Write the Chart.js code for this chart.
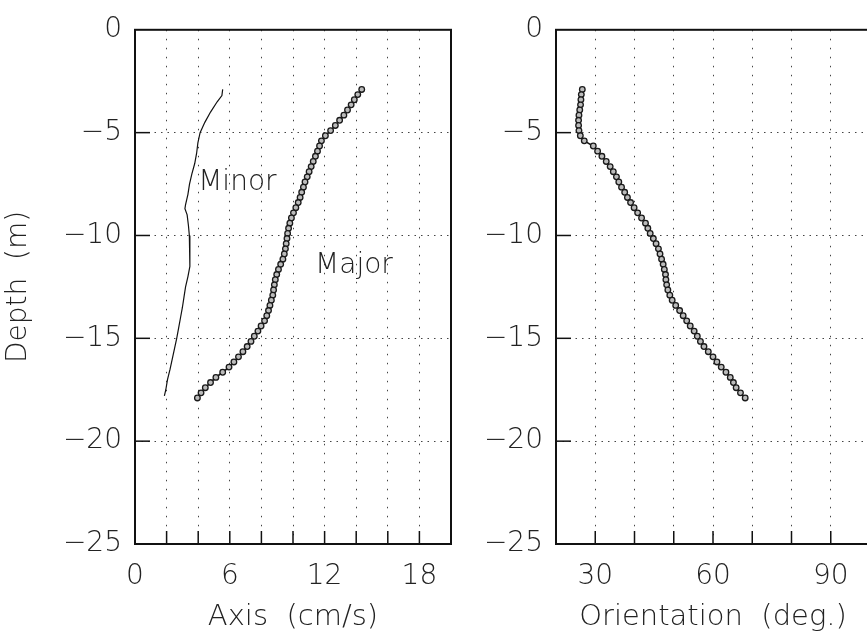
<!DOCTYPE html>
<html>
<head>
<meta charset="utf-8">
<script src="https://cdn.jsdelivr.net/npm/chart.js@4.4.1/dist/chart.umd.min.js"></script>
<style>
  html, body { margin: 0; padding: 0; width: 867px; height: 640px; overflow: hidden; background: #fff; }
  #left { position: absolute; left: 0; top: 0; }
  #right { position: absolute; left: 470px; top: 0; }
</style>
</head>
<body>
<canvas id="left" width="470" height="640"></canvas>
<canvas id="right" width="420" height="640"></canvas>
<script>
// depth (m) of the profile bins, shared by major axis and orientation
const depthBins = [-2.9, -3.15, -3.4, -3.65, -3.9, -4.15, -4.4, -4.65, -4.9, -5.15, -5.4, -5.65,
  -5.9, -6.15, -6.4, -6.65, -6.9, -7.15, -7.4, -7.65, -7.9, -8.15, -8.4, -8.65, -8.9, -9.15,
  -9.4, -9.65, -9.9, -10.15, -10.4, -10.65, -10.9, -11.15, -11.4, -11.65, -11.9, -12.15, -12.4,
  -12.65, -12.9, -13.15, -13.4, -13.65, -13.9, -14.15, -14.4, -14.65, -14.9, -15.15, -15.4,
  -15.65, -15.9, -16.15, -16.4, -16.65, -16.9, -17.15, -17.4, -17.65, -17.9];

const majorAxis = [14.35, 14.1, 13.88, 13.68, 13.45, 13.22, 12.95, 12.68, 12.38, 12.05, 11.8, 11.68,
  11.55, 11.42, 11.28, 11.15, 11.02, 10.9, 10.76, 10.66, 10.55, 10.45, 10.33, 10.18, 10.03, 9.9,
  9.8, 9.72, 9.66, 9.62, 9.57, 9.52, 9.45, 9.36, 9.22, 9.08, 8.97, 8.88, 8.82, 8.77, 8.72, 8.63,
  8.54, 8.45, 8.34, 8.2, 7.98, 7.78, 7.55, 7.34, 7.1, 6.83, 6.55, 6.26, 5.95, 5.55, 5.12, 4.78,
  4.45, 4.18, 3.95];

const orientation = [26.7, 26.45, 26.35, 26.25, 26.05, 25.85, 25.75, 25.75, 25.85, 26.2, 27.2, 29.5,
  30.6, 31.7, 32.8, 33.8, 34.6, 35.4, 36.0, 36.7, 37.5, 38.2, 39.0, 39.9, 40.8, 41.8, 42.8, 43.4,
  44.0, 44.8, 45.5, 46.1, 46.5, 46.9, 47.3, 47.6, 47.9, 48.0, 48.2, 48.5, 49.0, 49.6, 50.5, 51.5,
  52.4, 53.3, 54.2, 55.2, 56.0, 56.8, 57.7, 58.8, 60.0, 61.0, 62.1, 63.3, 64.4, 65.2, 65.9, 67.0,
  68.2];

const minorDepth = [-2.9, -3.2, -3.5, -4, -4.5, -5, -5.5, -6, -6.5, -7, -7.5, -8, -8.5, -8.7, -9,
  -9.5, -10, -10.5, -11, -11.5, -12, -12.5, -13, -13.5, -14, -14.5, -15, -15.5, -16, -16.5, -17,
  -17.5, -17.8];
const minorAxis = [5.55, 5.5, 5.2, 4.78, 4.42, 4.12, 3.98, 3.9, 3.78, 3.6, 3.45, 3.35, 3.2, 3.16, 3.3,
  3.38, 3.44, 3.47, 3.48, 3.47, 3.35, 3.2, 3.1, 3.0, 2.88, 2.76, 2.64, 2.5, 2.36, 2.22, 2.06,
  1.95, 1.86];

const depthTickLabels = [0, -5, -10, -15, -20, -25];
const axisTickLabels = [0, 6, 12, 18];
const orientTickLabels = [30, 60, 90];

// curve labels, placed in data units of the left panel
const curveLabels = [
  { text: "Minor", x: 4.0, y: -7.8 },
  { text: "Major", x: 11.4, y: -11.8 },
];

const FAMILY = "'DejaVu Sans', sans-serif";
const INK = "#222";

const toPts = (xs, ys) => xs.map((v, i) => ({ x: v, y: ys[i] }));
const minusLabel = (v) => (v < 0 ? "\u2212" + Math.abs(v) : String(v));

// box round the plot and short inward ticks
const framePlugin = {
  id: "frame",
  afterDraw(chart) {
    const { ctx, chartArea: a, scales } = chart;
    ctx.save();
    ctx.strokeStyle = "#111";
    ctx.lineWidth = 1.5;
    scales.x.ticks.forEach((t) => {
      const px = scales.x.getPixelForValue(t.value);
      if (px <= a.left + 2 || px >= a.right - 2) return;
      ctx.beginPath();
      ctx.moveTo(px, a.bottom);
      ctx.lineTo(px, a.bottom - 13);
      ctx.stroke();
    });
    scales.y.ticks.forEach((t) => {
      const py = scales.y.getPixelForValue(t.value);
      if (py <= a.top + 2 || py >= a.bottom - 2) return;
      ctx.beginPath();
      ctx.moveTo(a.left, py);
      ctx.lineTo(a.left + 15, py);
      ctx.stroke();
    });
    ctx.lineWidth = 2;
    ctx.strokeRect(a.left, a.top, a.right - a.left, a.bottom - a.top);
    ctx.restore();
  },
};

function textPlugin(items) {
  return {
    id: "curveText",
    afterDatasetsDraw(chart) {
      const { ctx, scales } = chart;
      ctx.save();
      ctx.font = "200 28px " + FAMILY;
      ctx.fillStyle = INK;
      ctx.textAlign = "left";
      ctx.textBaseline = "alphabetic";
      items.forEach((it) => {
        ctx.fillText(it.text, scales.x.getPixelForValue(it.x), scales.y.getPixelForValue(it.y));
      });
      ctx.restore();
    },
  };
}

function depthScale(yWidth) {
  return {
    type: "linear",
    min: -25,
    max: 0,
    afterFit: (s) => { s.width = yWidth; },
    border: { display: false, dash: [1.5, 5] },
    grid: { color: "#444", lineWidth: 1, drawTicks: false },
    ticks: {
      stepSize: 5,
      padding: 13,
      color: INK,
      font: { family: FAMILY, size: 28, weight: "200" },
      callback: (v) => (depthTickLabels.includes(v) ? minusLabel(v) : ""),
    },
    title: yWidth > 100
      ? { display: true, text: "Depth  (m)", color: INK, padding: { top: 2 },
          font: { family: FAMILY, size: 28, weight: "200" } }
      : { display: false },
  };
}

function xScale(min, max, step, labels, title) {
  return {
    type: "linear",
    min: min,
    max: max,
    afterFit: (s) => { s.height = 96; },
    border: { display: false, dash: [1.5, 7.5] },
    grid: { color: "#444", lineWidth: 1, drawTicks: false },
    ticks: {
      stepSize: step,
      autoSkip: false,
      maxRotation: 0,
      padding: 16,
      color: INK,
      font: { family: FAMILY, size: 28, weight: "200" },
      callback: (v) => (labels.includes(v) ? String(v) : ""),
    },
    title: { display: true, text: title, color: INK, padding: { bottom: 5 },
      font: { family: FAMILY, size: 29, weight: "200" } },
  };
}

const common = {
  responsive: false,
  animation: false,
  plugins: { legend: { display: false }, tooltip: { enabled: false } },
};

const markerStyle = {
  showLine: true,
  borderColor: "#111",
  borderWidth: 1.6,
  pointRadius: 2.8,
  pointBorderWidth: 1.3,
  pointBorderColor: "#1a1a1a",
  pointBackgroundColor: "#bbb",
};

new Chart(document.getElementById("left").getContext("2d"), {
  type: "scatter",
  data: {
    datasets: [
      { label: "Major", data: toPts(majorAxis, depthBins), ...markerStyle },
      {
        label: "Minor",
        data: toPts(minorAxis, minorDepth),
        showLine: true,
        borderColor: "#111",
        borderWidth: 1.2,
        pointRadius: 0,
      },
    ],
  },
  options: {
    ...common,
    layout: { padding: { top: 20, right: 19, bottom: 0, left: 0 } },
    scales: {
      x: xScale(0, 20, 2, axisTickLabels, "Axis  (cm/s)"),
      y: depthScale(135),
    },
  },
  plugins: [framePlugin, textPlugin(curveLabels)],
});

new Chart(document.getElementById("right").getContext("2d"), {
  type: "scatter",
  data: {
    datasets: [
      { label: "Orientation", data: toPts(orientation, depthBins), ...markerStyle },
    ],
  },
  options: {
    ...common,
    layout: { padding: { top: 20, right: 20, bottom: 0, left: 0 } },
    scales: {
      x: xScale(20, 100, 10, orientTickLabels, "Orientation  (deg.)"),
      y: depthScale(86),
    },
  },
  plugins: [framePlugin],
});
</script>
</body>
</html>
